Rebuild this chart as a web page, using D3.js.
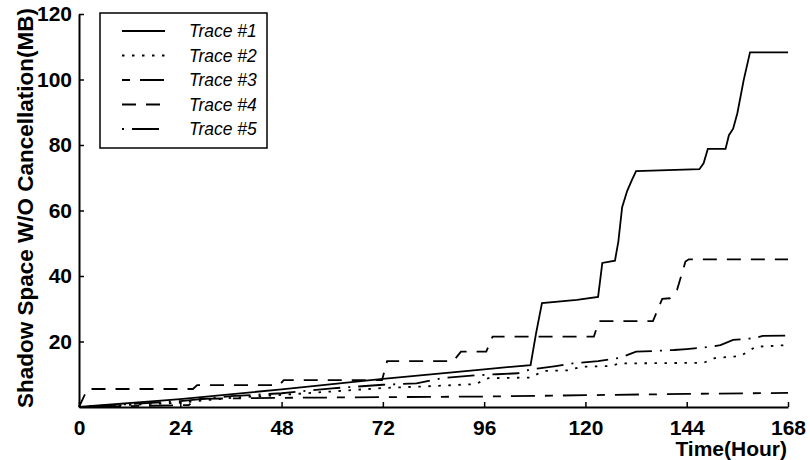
<!DOCTYPE html>
<html>
<head>
<meta charset="utf-8">
<script src="https://cdn.jsdelivr.net/npm/d3@7"></script>
<style>
  body { margin: 0; background: #fff; }
  svg { display: block; font-family: "Liberation Sans", Arial, sans-serif; }
</style>
</head>
<body>
<svg id="chart" width="810" height="460"></svg>
<script>
// values: [hour, MB]
var trace1 = [[0,0],[24,2.4],[48,5.4],[72,8.6],[96,11.5],[107,12.8],[108.3,22.5],[109.7,31.7],[118,32.7],[123,33.6],
  [124,44],[127,44.7],[127.8,50.5],[128.7,61],[129.9,66],[131,69.3],[132,72],[147,72.6],[148,74.4],[149,78.8],
  [153.2,78.8],[154,83],[155,85],[156,89.7],[157.5,99.8],[159,108.3],[168,108.3]];
var trace2 = [[0,0],[24,1.3],[36,2.8],[48,3.7],[72,5.8],[84,6.4],[94,7],[97,8.8],[107,9],[110,11],[116,11.2],
  [119,12.3],[126,12.5],[128,13.3],[148,13.5],[150.6,14.9],[156.8,15.6],[160.4,18.4],[168,18.9]];
var trace3 = [[0,0],[26,0.6],[28,2.5],[48,2.8],[72,3],[96,3.2],[120,3.6],[144,4],[168,4.3]];
var trace4 = [[0,0],[2,5.5],[27,5.5],[28,6.7],[47.5,6.7],[48.5,8.2],[71.8,8.2],[73,14],[88.7,14],[90.5,16.9],
  [96.5,16.9],[98,21.5],[122,21.5],[123.2,26.2],[136,26.2],[137.4,30.6],[138.2,33],[140,33.2],[141.7,35.7],
  [143.7,44.4],[144.5,45.1],[168,45.1]];
var trace5 = [[0,0],[24,1.8],[36,3.3],[48,4.2],[60,5.7],[72,6.8],[80,7.2],[86,8.8],[93,9.6],[99,10],[104,10.3],
  [107,11.5],[109,11.8],[113,12.5],[117,13.3],[123,14],[128,15],[130,15.9],[132,16.9],[136,17.1],[141,17.4],
  [144,17.7],[150,18.4],[152,18.9],[155,20.5],[160,21],[162,21.7],[168,21.8]];

var traceNames = ['Trace #1', 'Trace #2', 'Trace #3', 'Trace #4', 'Trace #5'];
var xTicks = [0, 24, 48, 72, 96, 120, 144, 168];
var yTicks = [20, 40, 60, 80, 100, 120];

var dashes = [null, '2.5,7.5', '8,10,24,10', '14,10', '2,8,27,8'];
var traces = [trace1, trace2, trace3, trace4, trace5];

var svg = d3.select('#chart');
// plot box (window.top is read-only, so no "top" here)
var plotL = 79, plotR = 788, plotT = 14, plotB = 407;

var x = d3.scaleLinear().domain([0, 168]).range([plotL, plotR]);
var y = d3.scaleLinear().domain([0, 120]).range([plotB, plotT]);

var line = d3.line()
  .x(function(d) { return x(d[0]); })
  .y(function(d) { return y(d[1]); });

svg.selectAll('path.trace')
  .data(traces)
  .enter()
  .append('path')
    .attr('class', 'trace')
    .attr('d', line)
    .attr('fill', 'none')
    .attr('stroke', '#000')
    .attr('stroke-width', 1.8)
    .attr('stroke-dasharray', function(d, i) { return dashes[i]; });

// axes, ticks pointing inward
var xAxis = svg.append('g')
  .attr('transform', 'translate(0,' + plotB + ')')
  .call(d3.axisBottom(x).tickValues(xTicks).tickSizeInner(-5).tickSizeOuter(0).tickPadding(13));
var yAxis = svg.append('g')
  .attr('transform', 'translate(' + plotL + ',0)')
  .call(d3.axisLeft(y).tickValues(yTicks).tickSizeInner(-5).tickSizeOuter(0).tickPadding(7));

[xAxis, yAxis].forEach(function(g) {
  g.select('.domain').attr('stroke-width', 2);
  g.selectAll('.tick line').attr('stroke-width', 1.5);
  g.selectAll('.tick text')
    .attr('font-family', '"Liberation Sans", Arial, sans-serif')
    .attr('font-size', 21)
    .attr('font-weight', 'bold')
    .attr('fill', '#000');
});

svg.append('text')
  .attr('transform', 'translate(33,208) rotate(-90)')
  .attr('text-anchor', 'middle')
  .attr('font-size', 22.5)
  .attr('font-weight', 'bold')
  .text('Shadow Space W/O Cancellation(MB)');

svg.append('text')
  .attr('x', 787)
  .attr('y', 456)
  .attr('text-anchor', 'end')
  .attr('font-size', 21)
  .attr('font-weight', 'bold')
  .text('Time(Hour)');

// legend
var legend = svg.append('g');
legend.append('rect')
  .attr('x', 100).attr('y', 13)
  .attr('width', 167).attr('height', 135)
  .attr('fill', '#fff')
  .attr('stroke', '#000')
  .attr('stroke-width', 1.5);

var rows = legend.selectAll('g.row')
  .data(traceNames)
  .enter()
  .append('g')
    .attr('class', 'row')
    .attr('transform', function(d, i) { return 'translate(0,' + (31 + i * 24.5) + ')'; });

rows.append('line')
  .attr('x1', 122).attr('x2', 165)
  .attr('stroke', '#000')
  .attr('stroke-width', 1.8)
  .attr('stroke-dasharray', function(d, i) { return dashes[i]; });

rows.append('text')
  .attr('x', 189)
  .attr('dy', '0.35em')
  .attr('font-size', 17.5)
  .attr('font-style', 'italic')
  .text(function(d) { return d; });
</script>
</body>
</html>
